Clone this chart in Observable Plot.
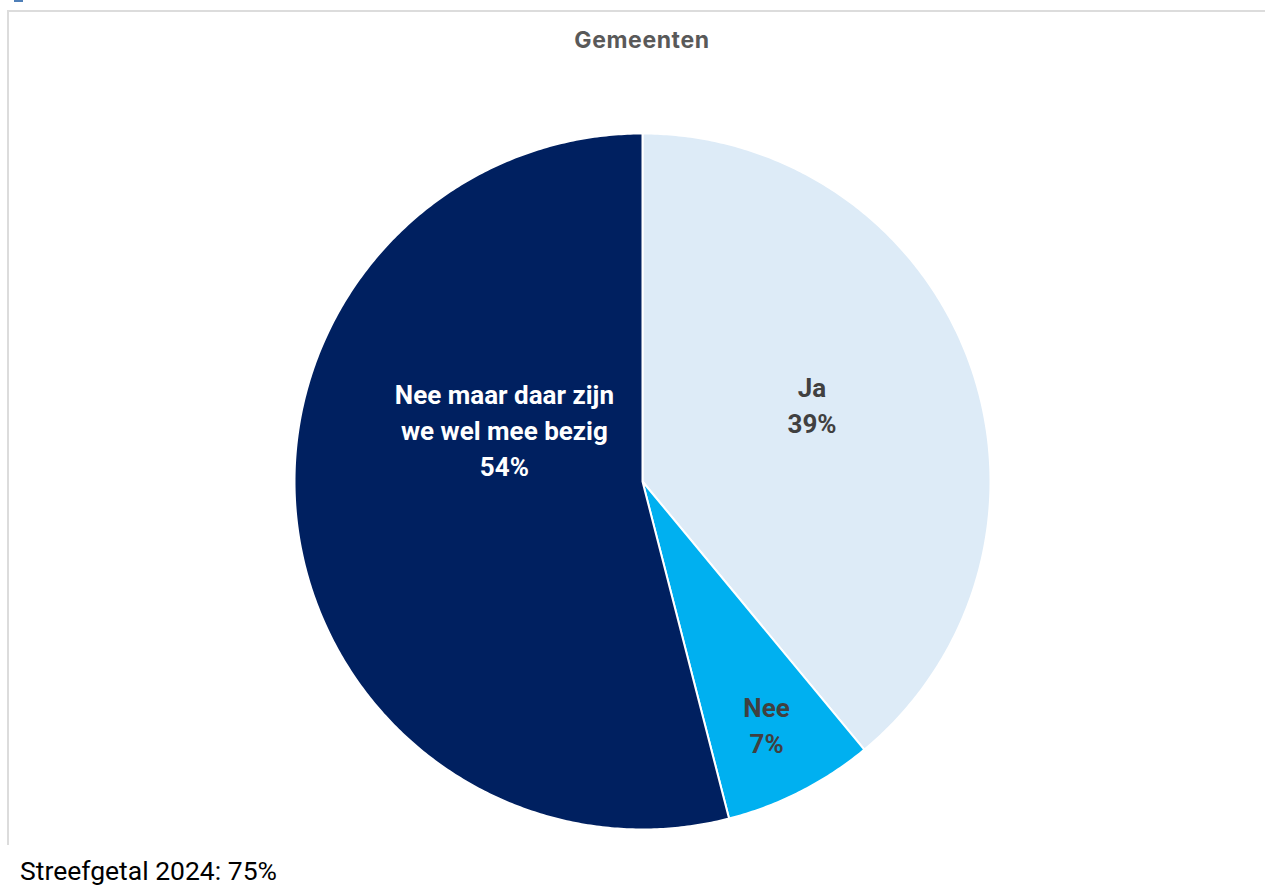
<!DOCTYPE html>
<html>
<head>
<meta charset="utf-8">
<script src="https://cdn.jsdelivr.net/npm/d3@7"></script>
<script src="https://cdn.jsdelivr.net/npm/@observablehq/plot@0.6"></script>
<style>
  html, body { margin: 0; padding: 0; background: #fff; }
  #wrap { position: relative; width: 1265px; height: 893px; overflow: hidden; font-family: Roboto, "Noto Sans", sans-serif; }
  #chart { position: absolute; left: 0; top: 0; }
  .frame-top { position: absolute; left: 8px; top: 10px; width: 1257px; height: 2px; background: #dcdcdc; }
  .frame-left { position: absolute; left: 7px; top: 10px; width: 2px; height: 835px; background: #dcdcdc; }
  .teal { position: absolute; left: 14px; top: 0; width: 9px; height: 2px; background: #4f7fb8; }
  #title { position: absolute; left: 642px; transform: translateX(-50%); top: 29px; font-family: Inter, Roboto, sans-serif; font-size: 23px; line-height: 1; font-weight: 700; color: #595959; white-space: nowrap; letter-spacing: 0.6px; }
  #caption { position: absolute; left: 20px; top: 858px; font-size: 26.5px; line-height: 1; color: #000; white-space: nowrap; }
</style>
</head>
<body>
<div id="wrap">
  <div class="teal"></div>
  <div class="frame-top"></div>
  <div class="frame-left"></div>
  <div id="chart"></div>
  <div id="title">Gemeenten</div>
  <div id="caption">Streefgetal 2024: 75%</div>
</div>
<script>
// ---- data ----
const categories = ["Ja", "Nee", "Nee maar daar zijn\nwe wel mee bezig"];
const values = [39, 7, 54];
const colors = ["#DDEBF7", "#00B0F0", "#002060"];
const labelColors = ["#404040", "#404040", "#ffffff"];
// label placement (fraction of radius along slice mid-angle, plus pixel nudge)
const labelRadius = [0.53, 0.785, 0.40];
const labelDx = [-4, 0, 0];
const labelDy = [-16, -1, -70];

// ---- build slice polygons (angles clockwise from 12 o'clock) ----
const total = d3.sum(values);
const slices = [];
let acc = 0;
values.forEach((v, i) => {
  const a0 = acc / total * 2 * Math.PI;
  acc += v;
  const a1 = acc / total * 2 * Math.PI;
  slices.push({cat: categories[i], value: v, a0, a1, i});
});

const pts = [];
for (const s of slices) {
  pts.push({cat: s.cat, x: 0, y: 0});
  const n = Math.max(2, Math.ceil((s.a1 - s.a0) / (Math.PI / 360)));
  for (let k = 0; k <= n; k++) {
    const a = s.a0 + (s.a1 - s.a0) * k / n;
    pts.push({cat: s.cat, x: Math.sin(a), y: Math.cos(a)});
  }
  pts.push({cat: s.cat, x: 0, y: 0});
}

const labels = slices.map(s => {
  const m = (s.a0 + s.a1) / 2;
  const r = labelRadius[s.i];
  return {
    cat: s.cat,
    x: Math.sin(m) * r,
    y: Math.cos(m) * r,
    text: s.cat + "\n" + Math.round(s.value / total * 100) + "%",
    color: labelColors[s.i],
    dx: labelDx[s.i],
    dy: labelDy[s.i]
  };
});

const cx = 642, cy = 481, R = 348;

const chart = Plot.plot({
  width: 1265,
  height: 893,
  margin: 0,
  style: {background: "transparent", fontFamily: "Roboto, 'Noto Sans', sans-serif"},
  x: {type: "linear", domain: [-1, 1], range: [cx - R, cx + R], axis: null},
  y: {type: "linear", domain: [-1, 1], range: [cy + R, cy - R], axis: null},
  color: {domain: categories, range: colors},
  marks: [
    Plot.line(pts, {x: "x", y: "y", z: "cat", fill: "cat", stroke: "#ffffff", strokeWidth: 2, strokeLinejoin: "round", curve: "linear"}),
    ...labels.map(l => Plot.text([l], {
      x: "x", y: "y", text: "text", fill: l.color,
      dx: l.dx, dy: l.dy,
      fontSize: 26, fontWeight: 700, lineHeight: 1.385, textAnchor: "middle"
    }))
  ]
});
document.getElementById("chart").appendChild(chart);
</script>
</body>
</html>
